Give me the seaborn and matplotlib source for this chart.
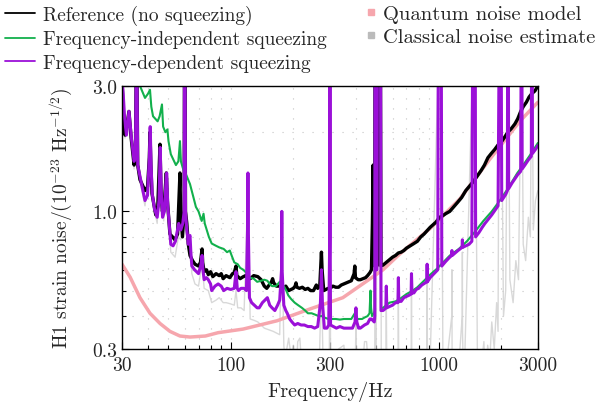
import numpy as np
import pandas as pd
import matplotlib
matplotlib.use("Agg")
import matplotlib.pyplot as plt
from matplotlib.lines import Line2D
from matplotlib.ticker import FixedLocator, NullFormatter
import seaborn as sns

# reference (no squeezing)
ref_f = [30.0, 30.4, 31.0, 31.6, 32.4, 33.2, 34.3, 34.8, 35.1, 35.4, 35.7, 36.6, 37.8, 38.7, 39.8,
         40.6, 40.9, 41.3, 41.8, 42.8, 43.6, 44.6, 45.7, 46.2, 46.9, 47.8, 48.7, 49.0, 49.6, 51.0,
         52.5, 53.9, 55.5, 56.6, 57.0, 57.4, 58.6, 59.7, 59.9, 60.3, 60.6, 61.5, 62.5, 63.7, 65.5,
         67.3, 70.0, 71.5, 72.5, 72.8, 73.3, 74.5, 76.5, 78, 80, 82, 85, 88, 90, 92, 95, 99, 102,
         104, 106, 107, 111, 115, 118, 121, 124, 129, 135, 140, 145, 149, 153, 157, 159, 161, 166,
         172, 178, 184, 190, 195, 200, 204, 206, 208, 214, 221, 228, 235, 242, 250, 255, 258, 262,
         268, 271, 273, 275, 280, 287, 294, 300, 310, 320, 330, 340, 350, 360, 370, 380, 392, 395,
         398, 410, 420, 432, 445, 455, 467, 475, 480, 484, 487, 492, 494, 501, 505, 508, 525, 528,
         540, 560, 580, 600, 620, 640, 660, 680, 700, 730, 760, 790, 820, 850, 880, 910, 940, 970,
         990, 1010, 1040, 1080, 1130, 1180, 1230, 1290, 1350, 1410, 1470, 1530, 1600, 1660, 1725,
         1790, 1860, 1930, 2014, 2080, 2150, 2230, 2325, 2400, 2480, 2550, 2640, 2720, 2800, 2902, 3000]
ref_v = [3.2, 2.4, 1.95, 2.1, 2.4, 1.9, 1.5, 1.6, 3.5, 3.5, 1.5, 1.32, 1.25, 1.2, 1.24,
         1.6, 2.0, 1.5, 1.17, 1.05, 0.97, 1.05, 1.8, 1.2, 1.0, 1.05, 1.3, 1.4, 1.1, 0.82,
         0.8, 0.78, 0.82, 1.2, 1.4, 1.0, 0.8, 1.0, 3.5, 3.5, 1.0, 0.9, 0.75, 0.68, 0.65,
         0.63, 0.62, 0.64, 0.7, 0.72, 0.64, 0.59, 0.6, 0.575, 0.59, 0.565, 0.58, 0.57, 0.58, 0.555, 0.57, 0.56, 0.58,
         0.585, 0.62, 0.57, 0.555, 0.565, 0.57, 0.56, 0.555, 0.57, 0.565, 0.55, 0.52, 0.51, 0.525, 0.54, 0.555, 0.535, 0.52,
         0.52, 0.51, 0.52, 0.50, 0.505, 0.51, 0.52, 0.535, 0.515, 0.51, 0.515, 0.505, 0.51, 0.50, 0.50, 0.515, 0.525, 0.51,
         0.52, 0.62, 0.70, 0.6, 0.50, 0.505, 0.51, 0.51, 0.52, 0.515, 0.515, 0.525, 0.53, 0.535, 0.54, 0.545, 0.58, 0.62,
         0.56, 0.55, 0.55, 0.555, 0.56, 0.57, 0.585, 0.6, 0.9, 1.5, 0.9, 0.62, 3.5, 3.5, 0.62, 3.5, 3.5, 0.62,
         0.625, 0.64, 0.655, 0.67, 0.68, 0.695, 0.70, 0.71, 0.725, 0.74, 0.755, 0.77, 0.8, 0.82, 0.845, 0.87, 0.89, 0.91,
         0.93, 0.95, 0.96, 0.98, 1.0, 1.04, 1.08, 1.13, 1.2, 1.25, 1.3, 1.36, 1.43, 1.5, 1.6,
         1.66, 1.72, 1.79, 1.85, 1.92, 2.0, 2.06, 2.15, 2.25, 2.4, 2.5, 2.6, 2.72, 2.8, 2.87, 3.0]

# frequency-independent squeezing
fis_f = [30, 33, 35, 36.6, 38.7, 40.0, 40.9, 41.5, 42.3, 44.5, 45.5, 46.7, 47.3, 48.5, 49.6, 50.2,
         51.5, 54.5, 56, 57.0, 57.6, 59.0, 61, 63.7, 66, 68, 70, 72.5, 74, 75, 76, 78.5, 81, 85, 88,
         92.5, 96, 99, 101, 104, 108, 111, 115, 120, 124, 129, 134, 140, 145, 150, 154, 158, 165, 172,
         175, 180, 185, 189, 195, 203, 211, 220, 228, 235, 245, 255, 265, 274, 282, 295, 307, 320, 335,
         350, 365, 380, 395, 400, 410, 428, 440, 455, 465, 470, 473, 478, 488, 492, 494, 525, 528,
         540, 580, 620, 651, 700, 750, 790, 850, 910, 980, 1050, 1132, 1250, 1367, 1500, 1640, 1800,
         1968, 2150, 2390, 2550, 2740, 3000]
fis_v = [4.0, 3.6, 3.2, 3.0, 2.7, 2.8, 2.9, 2.5, 2.3, 2.2, 2.3, 2.55, 2.1, 2.0, 2.05, 1.85,
         1.65, 1.5, 1.55, 1.85, 1.55, 1.45, 1.38, 1.27, 1.14, 1.04, 1.0, 0.92, 0.98, 0.9, 0.87, 0.8, 0.755, 0.74, 0.73,
         0.72, 0.70, 0.71, 0.68, 0.64, 0.63, 0.61, 0.60, 0.58, 0.56, 0.555, 0.54, 0.545, 0.55, 0.545, 0.53, 0.52, 0.52, 0.54,
         0.535, 0.52, 0.5, 0.48, 0.465, 0.45, 0.44, 0.43, 0.42, 0.41, 0.41, 0.405, 0.40, 0.40, 0.395, 0.39, 0.39, 0.39, 0.388,
         0.39, 0.39, 0.39, 0.41, 0.39, 0.39, 0.39, 0.395, 0.40, 0.41, 0.5, 0.43, 0.40, 0.41, 0.42, 3.5, 3.5, 0.43,
         0.43, 0.45, 0.455, 0.465, 0.485, 0.5, 0.515, 0.545, 0.575, 0.605, 0.64, 0.68, 0.72, 0.77, 0.84, 0.92, 1.0,
         1.10, 1.22, 1.40, 1.5, 1.63, 1.82]

# frequency-dependent squeezing
fds_f = [30.0, 30.4, 30.9, 31.5, 32.4, 33.3, 34.3, 34.8, 35.1, 35.4, 35.7, 36.6, 37.8, 38.7, 39.8,
         40.6, 41.0, 41.4, 41.9, 43.0, 44.3, 45.2, 45.8, 46.3, 47.0, 48.0, 48.8, 49.2, 49.8, 51.5,
         52.8, 54.2, 55.5, 56.2, 57.5, 58.8, 59.7, 59.9, 60.3, 60.6, 61.3, 62.5, 63.2, 63.7, 64.3, 65,
         67, 70, 72, 72.8, 73.5, 74.5, 76.5, 78, 80, 81, 84, 87, 90, 92.5, 96, 100, 104, 106, 107.5,
         109, 112, 116, 119, 120.6, 121, 121.4, 123, 126, 130, 134, 137, 142, 146, 150, 154, 158, 163,
         168, 172, 175.5, 176, 176.6, 180, 184, 187, 192, 197, 203, 210, 218, 226, 235, 244, 253, 262,
         270, 273, 276, 282, 290, 296, 299.3, 300, 300.7, 302, 312, 322, 335, 350, 360, 370, 385, 396,
         400, 404, 412, 420, 440, 455, 467, 475, 482, 490, 493, 494, 497, 499, 505, 507, 526, 528,
         540, 550, 557, 560, 563, 580, 600, 620, 637, 640, 643, 660, 680, 700, 720, 737, 740, 744,
         760, 780, 800, 830, 860, 877, 880, 883, 910, 940, 970, 990, 995, 1030, 1035, 1080, 1120,
         1155, 1158, 1162, 1200, 1238, 1296, 1300, 1304, 1350, 1400, 1444, 1455, 1500, 1505, 1560,
         1620, 1669, 1725, 1800, 1880, 1930, 1950, 2000, 2010, 2040, 2100, 2140, 2145, 2165, 2170,
         2250, 2325, 2400, 2480, 2490, 2515, 2520, 2598, 2700, 2790, 2795, 2820, 2825, 2920, 3000]
fds_v = [3.2, 2.8, 2.25, 1.95, 2.4, 1.9, 1.55, 1.6, 3.5, 3.5, 1.5, 1.36, 1.2, 1.1, 1.15,
         1.6, 2.1, 1.5, 1.17, 1.02, 0.95, 1.1, 1.75, 1.2, 0.95, 1.0, 1.3, 1.4, 1.05, 0.75,
         0.74, 0.77, 0.85, 0.9, 0.85, 0.9, 1.0, 3.5, 3.5, 1.0, 0.88, 0.75, 0.8, 0.81, 0.7, 0.62,
         0.6, 0.58, 0.63, 0.68, 0.6, 0.55, 0.56, 0.55, 0.53, 0.50, 0.52, 0.53, 0.52, 0.50, 0.51, 0.505, 0.51, 0.59, 0.51,
         0.50, 0.51, 0.51, 0.5, 0.9, 1.4, 0.9, 0.47, 0.45, 0.44, 0.43, 0.43, 0.45, 0.46, 0.47, 0.44, 0.43, 0.42,
         0.44, 0.46, 0.6, 1.0, 0.6, 0.44, 0.42, 0.41, 0.39, 0.38, 0.37, 0.375, 0.37, 0.37, 0.365, 0.365, 0.36, 0.365,
         0.45, 0.60, 0.45, 0.36, 0.36, 0.37, 0.8, 3.5, 0.8, 0.37, 0.365, 0.36, 0.365, 0.36, 0.36, 0.36, 0.36, 0.38,
         0.43, 0.38, 0.36, 0.36, 0.37, 0.375, 0.39, 0.39, 0.385, 0.38, 0.4, 3.5, 3.5, 0.6, 0.6, 3.5, 3.5, 0.42,
         0.42, 0.425, 0.43, 0.52, 0.43, 0.435, 0.44, 0.45, 0.45, 0.56, 0.455, 0.455, 0.47, 0.475, 0.48, 0.485, 0.58, 0.49,
         0.49, 0.505, 0.51, 0.525, 0.535, 0.54, 0.63, 0.54, 0.56, 0.575, 0.59, 0.60, 3.5, 3.5, 0.62, 0.645, 0.665,
         0.68, 0.71, 0.68, 0.695, 0.71, 0.73, 0.78, 0.73, 0.74, 0.75, 0.77, 3.5, 3.5, 0.8, 0.83,
         0.87, 0.90, 0.93, 0.97, 1.02, 1.05, 3.5, 3.5, 1.1, 1.12, 1.16, 1.2, 3.5, 3.5, 1.22,
         1.28, 1.33, 1.38, 1.42, 3.5, 3.5, 1.45, 1.50, 1.57, 1.62, 3.5, 3.5, 1.66, 1.72, 1.78]

# quantum noise model
qn_f = [30, 32.8, 36.6, 40.9, 45.7, 51, 57, 63.7, 75.5, 87, 114.6, 167, 241, 346, 540, 651, 907,
        1264, 1762, 2455, 3000]
qn_v = [0.63, 0.563, 0.47, 0.41, 0.375, 0.35, 0.336, 0.333, 0.336, 0.346, 0.357, 0.384, 0.426,
        0.47, 0.60, 0.69, 0.86, 1.115, 1.58, 2.2, 2.6]

# classical noise estimate
cl_f = [30, 30.4, 31.0, 32.4, 34.3, 35.1, 35.4, 35.7, 36.6, 38.7, 40.6, 41.0, 41.4, 42, 44.3, 45.8,
        46.3, 47.6, 49.2, 49.8, 51.5, 54, 56, 57.5, 59.7, 59.9, 60.3, 60.6, 61.5, 63.7, 65, 67.3, 70,
        72.8, 74.5, 78, 81, 85, 88, 92, 95, 100, 104, 106, 108, 112, 116, 121, 124, 130, 135, 140, 145,
        152, 160, 166, 172, 176, 180, 183, 186, 190, 195, 200, 205, 210, 215, 220, 230, 245, 260, 265,
        273, 280, 298, 300, 302, 310, 330, 350, 365, 380, 398, 400, 402, 420, 440, 450, 470, 493, 494,
        497, 500, 507, 526, 530, 558, 560, 562, 575, 638, 640, 642, 660, 738, 740, 742, 760, 878, 880,
        882, 900, 995, 1030, 1050, 1156, 1158, 1160, 1220, 1298, 1300, 1302, 1320, 1455, 1500, 1540,
        1620, 1650, 1680, 1720, 1760, 1800, 1850, 1900, 1930, 1950, 2000, 2050, 2100, 2145, 2165, 2200,
        2280, 2350, 2420, 2490, 2515, 2550, 2620, 2700, 2760, 2795, 2820, 2850, 2920, 3000]
cl_v = [3.2, 2.7, 1.9, 2.35, 1.45, 3.5, 3.5, 1.45, 1.3, 1.05, 1.5, 2.0, 1.4, 1.1, 0.9, 1.7,
        1.1, 0.92, 1.35, 1.0, 0.70, 0.67, 0.8, 0.78, 0.9, 3.5, 3.5, 0.9, 0.82, 0.75, 0.58, 0.53, 0.52,
        0.64, 0.51, 0.50, 0.45, 0.46, 0.47, 0.45, 0.45, 0.445, 0.44, 0.5, 0.43, 0.43, 0.42, 1.3, 0.39, 0.385, 0.38, 0.37, 0.36,
        0.355, 0.35, 0.345, 0.34, 0.9, 0.31, 0.26, 0.3, 0.33, 0.28, 0.31, 0.22, 0.32, 0.33, 0.25, 0.2, 0.29, 0.28, 0.22,
        0.55, 0.2, 0.25, 3.5, 0.25, 0.22, 0.3, 0.31, 0.2, 0.2, 0.28, 0.4, 0.25, 0.2, 0.32, 0.32, 0.2, 0.3, 3.5,
        3.5, 0.25, 3.5, 3.5, 0.2, 0.3, 0.45, 0.3, 0.2, 0.3, 0.5, 0.3, 0.2, 0.3, 0.55, 0.3, 0.2, 0.3, 0.55,
        0.3, 0.2, 3.5, 3.5, 0.2, 0.4, 0.6, 0.3, 0.2, 0.4, 0.7, 0.35, 0.2, 3.5, 3.5, 0.2,
        0.28, 0.32, 0.22, 0.31, 0.27, 0.38, 0.3, 0.45, 0.35, 3.5, 3.5, 0.4, 0.5, 3.5, 3.5, 0.55,
        0.45, 0.65, 0.55, 3.5, 3.5, 0.75, 0.65, 0.95, 0.8, 3.5, 3.5, 0.85, 1.1, 1.2]

sns.set_style("ticks")
plt.rcParams["font.family"] = ["cmr10", "DejaVu Serif"]
plt.rcParams["mathtext.fontset"] = "cm"
plt.rcParams["axes.unicode_minus"] = False
plt.rcParams["axes.formatter.use_mathtext"] = True

fig = plt.figure(figsize=(6.01, 4.06), dpi=100)
ax = fig.add_axes([0.203, 0.138, 0.692, 0.648])

green = "#12b04c"
purple = "#9b10d8"
pink = "#f6a6ad"
grey = "#cfcfcf"

sns.lineplot(x=cl_f, y=cl_v, ax=ax, color=grey, lw=1.0, alpha=0.8, estimator=None, sort=False)
sns.lineplot(x=qn_f, y=qn_v, ax=ax, color=pink, lw=2.5, estimator=None, sort=False)
sns.lineplot(x=ref_f, y=ref_v, ax=ax, color="black", lw=2.4, estimator=None, sort=False)
sns.lineplot(x=fis_f, y=fis_v, ax=ax, color=green, lw=1.5, estimator=None, sort=False)
sns.lineplot(x=fds_f, y=fds_v, ax=ax, color=purple, lw=2.2, estimator=None, sort=False)

ax.set_xscale("log")
ax.set_yscale("log")
ax.set_xlim(30, 3000)
ax.set_ylim(0.3, 3.0)

ax.xaxis.set_major_locator(FixedLocator([30, 100, 300, 1000, 3000]))
ax.xaxis.set_minor_locator(FixedLocator([40, 50, 60, 70, 80, 90, 200, 400, 500, 600, 700, 800, 900, 2000]))
ax.set_xticklabels(["30", "100", "300", "1000", "3000"])
ax.xaxis.set_minor_formatter(NullFormatter())
ax.yaxis.set_major_locator(FixedLocator([0.3, 1.0, 3.0]))
ax.yaxis.set_minor_locator(FixedLocator([0.4, 0.5, 0.6, 0.7, 0.8, 0.9, 2.0]))
ax.set_yticklabels(["0.3", "1.0", "3.0"])
ax.yaxis.set_minor_formatter(NullFormatter())

ax.tick_params(which="both", direction="in", labelsize=14, color="black")
ax.tick_params(axis="x", pad=5)
ax.tick_params(which="major", length=5, width=0.8)
ax.tick_params(which="minor", length=3, width=0.8)
ax.grid(which="both", color="#c4c4c4", linestyle=(0, (1, 8)), lw=0.8)
for s in ax.spines.values():
    s.set_color("black")
    s.set_linewidth(1.0)

ax.set_xlabel("Frequency/Hz", fontsize=14.5, labelpad=5)
ax.set_ylabel(r"H1 strain noise/$(10^{-23}$ Hz$^{-1/2})$", fontsize=14)
ax.yaxis.set_label_coords(-0.115, 0.5)

line_handles = [Line2D([], [], color="black", lw=1.3),
                Line2D([], [], color=green, lw=1.3),
                Line2D([], [], color=purple, lw=1.3)]
leg1 = fig.legend(line_handles, ["Reference (no squeezing)", "Frequency-independent squeezing",
                                 "Frequency-dependent squeezing"],
                  loc="upper left", bbox_to_anchor=(0.008, 0.985), frameon=False, fontsize=14,
                  handlelength=1.55, handletextpad=0.4, labelspacing=0.27, borderaxespad=0,
                  borderpad=0)
sq_handles = [Line2D([], [], color=pink, marker="s", ls="none", markersize=5),
              Line2D([], [], color="#bbbbbb", marker="s", ls="none", markersize=5)]
leg2 = fig.legend(sq_handles, ["Quantum noise model", "Classical noise estimate"],
                  loc="upper left", bbox_to_anchor=(0.607, 0.985), frameon=False, fontsize=14.8,
                  handlelength=0.6, handletextpad=0.3, labelspacing=0.2, borderaxespad=0,
                  borderpad=0)

fig.savefig("out.png", dpi=100)
